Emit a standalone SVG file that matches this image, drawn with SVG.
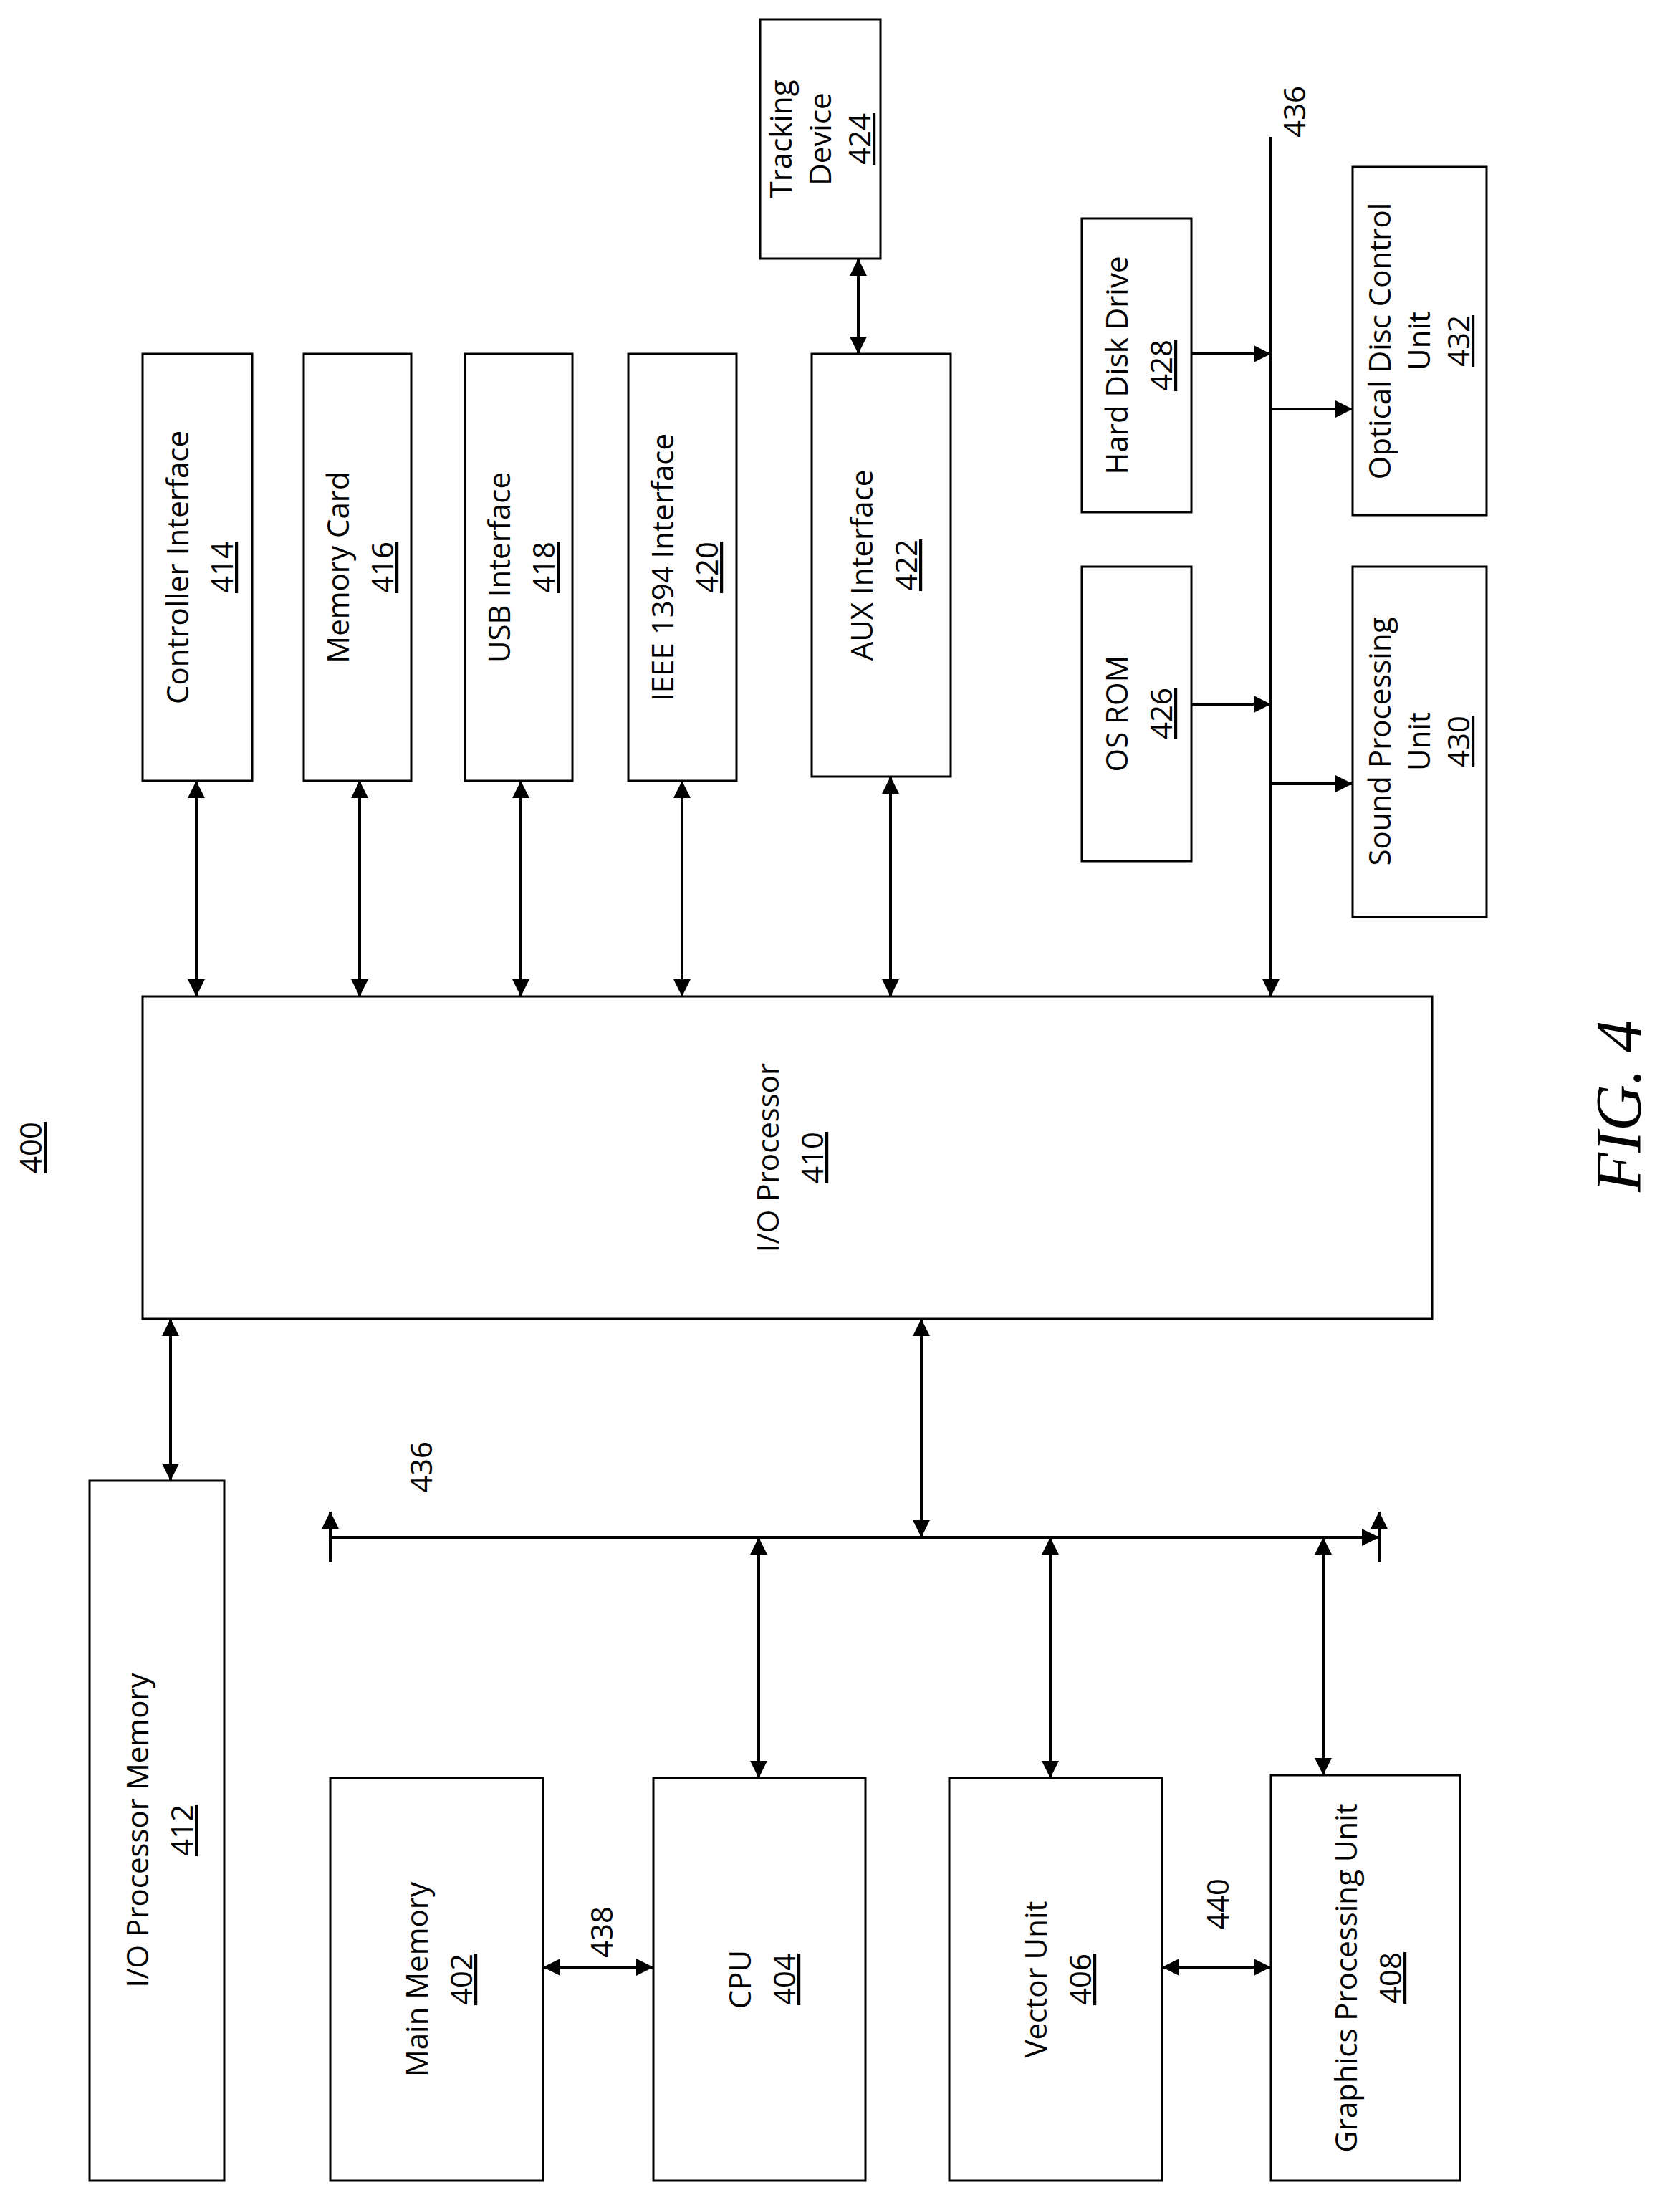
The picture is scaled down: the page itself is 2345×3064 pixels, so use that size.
<svg xmlns="http://www.w3.org/2000/svg" width="2345" height="3064" viewBox="0 0 2345 3064">
<style>
.b{fill:#fff;stroke:#000;stroke-width:3}
.t{font-family:"Open Sans","Liberation Sans",sans-serif;font-size:42px;text-anchor:middle}
.u{text-decoration:underline}
.l{stroke:#000;stroke-width:4;fill:none}
</style>
<defs>
<marker id="a" viewBox="0 0 10 10" refX="10" refY="5" markerWidth="6" markerHeight="6" orient="auto-start-reverse"><path d="M0,0L10,5L0,10z"/></marker>
</defs>
<rect width="2345" height="3064" fill="#fff"/>
<g id="n424"><rect class="b" x="1061" y="27" width="168" height="334"/><text class="t" transform="translate(1145,194) rotate(-90)"><tspan x="0" y="-40">Tracking</tspan><tspan x="0" y="15">Device</tspan><tspan x="0" y="70" class="u">424</tspan></text></g>
<g id="n414"><rect class="b" x="199" y="494" width="153" height="596"/><text class="t" transform="translate(275,792) rotate(-90)"><tspan x="0" y="-12">Controller Interface</tspan><tspan x="0" y="50" class="u">414</tspan></text></g>
<g id="n416"><rect class="b" x="424" y="494" width="150" height="596"/><text class="t" transform="translate(499,792) rotate(-90)"><tspan x="0" y="-12">Memory Card</tspan><tspan x="0" y="50" class="u">416</tspan></text></g>
<g id="n418"><rect class="b" x="649" y="494" width="150" height="596"/><text class="t" transform="translate(724,792) rotate(-90)"><tspan x="0" y="-12">USB Interface</tspan><tspan x="0" y="50" class="u">418</tspan></text></g>
<g id="n420"><rect class="b" x="877" y="494" width="151" height="596"/><text class="t" transform="translate(952,792) rotate(-90)"><tspan x="0" y="-12">IEEE 1394 Interface</tspan><tspan x="0" y="50" class="u">420</tspan></text></g>
<g id="n422"><rect class="b" x="1133" y="494" width="194" height="590"/><text class="t" transform="translate(1230,789) rotate(-90)"><tspan x="0" y="-12">AUX Interface</tspan><tspan x="0" y="50" class="u">422</tspan></text></g>
<g id="n428"><rect class="b" x="1510" y="305" width="153" height="410"/><text class="t" transform="translate(1586,510) rotate(-90)"><tspan x="0" y="-12">Hard Disk Drive</tspan><tspan x="0" y="50" class="u">428</tspan></text></g>
<g id="n432"><rect class="b" x="1888" y="233" width="187" height="486"/><text class="t" transform="translate(1981,476) rotate(-90)"><tspan x="0" y="-40">Optical Disc Control</tspan><tspan x="0" y="15">Unit</tspan><tspan x="0" y="70" class="u">432</tspan></text></g>
<g id="n426"><rect class="b" x="1510" y="791" width="153" height="411"/><text class="t" transform="translate(1586,996) rotate(-90)"><tspan x="0" y="-12">OS ROM</tspan><tspan x="0" y="50" class="u">426</tspan></text></g>
<g id="n430"><rect class="b" x="1888" y="791" width="187" height="489"/><text class="t" transform="translate(1981,1035) rotate(-90)"><tspan x="0" y="-40">Sound Processing</tspan><tspan x="0" y="15">Unit</tspan><tspan x="0" y="70" class="u">430</tspan></text></g>
<g id="n410"><rect class="b" x="199" y="1391" width="1800" height="450"/><text class="t" transform="translate(1099,1616) rotate(-90)"><tspan x="0" y="-12">I/O Processor</tspan><tspan x="0" y="50" class="u">410</tspan></text></g>
<g id="n412"><rect class="b" x="125" y="2067" width="188" height="977"/><text class="t" transform="translate(219,2555) rotate(-90)"><tspan x="0" y="-12">I/O Processor Memory</tspan><tspan x="0" y="50" class="u">412</tspan></text></g>
<g id="n402"><rect class="b" x="461" y="2482" width="297" height="562"/><text class="t" transform="translate(609,2763) rotate(-90)"><tspan x="0" y="-12">Main Memory</tspan><tspan x="0" y="50" class="u">402</tspan></text></g>
<g id="n404"><rect class="b" x="912" y="2482" width="296" height="562"/><text class="t" transform="translate(1060,2763) rotate(-90)"><tspan x="0" y="-12">CPU</tspan><tspan x="0" y="50" class="u">404</tspan></text></g>
<g id="n406"><rect class="b" x="1325" y="2482" width="297" height="562"/><text class="t" transform="translate(1473,2763) rotate(-90)"><tspan x="0" y="-12">Vector Unit</tspan><tspan x="0" y="50" class="u">406</tspan></text></g>
<g id="n408"><rect class="b" x="1774" y="2478" width="264" height="566"/><text class="t" transform="translate(1906,2761) rotate(-90)"><tspan x="0" y="-12">Graphics Processing Unit</tspan><tspan x="0" y="50" class="u">408</tspan></text></g>
<g id="connectors">
<line class="l" x1="1198" y1="361" x2="1198" y2="494" marker-start="url(#a)" marker-end="url(#a)"/>
<line class="l" x1="274" y1="1090" x2="274" y2="1391" marker-start="url(#a)" marker-end="url(#a)"/>
<line class="l" x1="502" y1="1090" x2="502" y2="1391" marker-start="url(#a)" marker-end="url(#a)"/>
<line class="l" x1="727" y1="1090" x2="727" y2="1391" marker-start="url(#a)" marker-end="url(#a)"/>
<line class="l" x1="952" y1="1090" x2="952" y2="1391" marker-start="url(#a)" marker-end="url(#a)"/>
<line class="l" x1="1243" y1="1084" x2="1243" y2="1391" marker-start="url(#a)" marker-end="url(#a)"/>
<line class="l" x1="1774" y1="191" x2="1774" y2="1391" marker-end="url(#a)"/>
<line class="l" x1="1663" y1="494" x2="1774" y2="494" marker-end="url(#a)"/>
<line class="l" x1="1774" y1="571" x2="1888" y2="571" marker-end="url(#a)"/>
<line class="l" x1="1663" y1="983" x2="1774" y2="983" marker-end="url(#a)"/>
<line class="l" x1="1774" y1="1094" x2="1888" y2="1094" marker-end="url(#a)"/>
<line class="l" x1="238" y1="1841" x2="238" y2="2067" marker-start="url(#a)" marker-end="url(#a)"/>
<line class="l" x1="461" y1="2146" x2="1925" y2="2146" marker-end="url(#a)"/>
<line class="l" x1="461" y1="2180" x2="461" y2="2110" marker-end="url(#a)"/>
<line class="l" x1="1925" y1="2180" x2="1925" y2="2110" marker-end="url(#a)"/>
<line class="l" x1="1286" y1="1841" x2="1286" y2="2146" marker-start="url(#a)" marker-end="url(#a)"/>
<line class="l" x1="1059" y1="2146" x2="1059" y2="2482" marker-start="url(#a)" marker-end="url(#a)"/>
<line class="l" x1="1466" y1="2146" x2="1466" y2="2482" marker-start="url(#a)" marker-end="url(#a)"/>
<line class="l" x1="1847" y1="2146" x2="1847" y2="2478" marker-start="url(#a)" marker-end="url(#a)"/>
<line class="l" x1="758" y1="2746" x2="912" y2="2746" marker-start="url(#a)" marker-end="url(#a)"/>
<line class="l" x1="1622" y1="2746" x2="1774" y2="2746" marker-start="url(#a)" marker-end="url(#a)"/>
</g>
<text class="t" transform="translate(1822,156) rotate(-90)">436</text>
<text class="t" transform="translate(603,2048) rotate(-90)">436</text>
<text class="t" transform="translate(855,2697) rotate(-90)">438</text>
<text class="t" transform="translate(1715,2658) rotate(-90)">440</text>
<text class="t u" transform="translate(58,1602) rotate(-90)">400</text>
<text transform="translate(2290,1544) rotate(-90)" style="font-family:'Liberation Serif',serif;font-style:italic;font-size:90px;text-anchor:middle">FIG. 4</text>
</svg>
